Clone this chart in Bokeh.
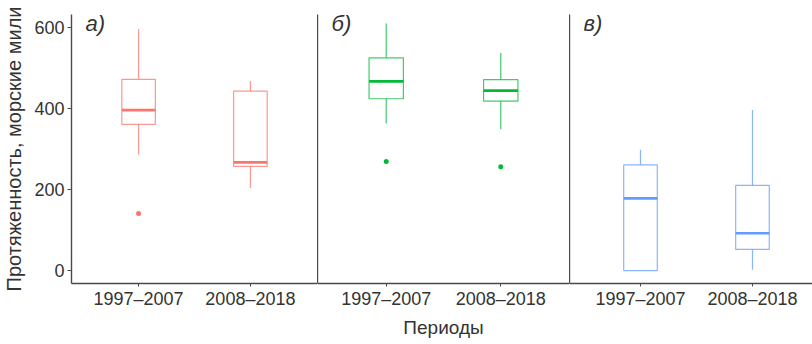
from bokeh.plotting import figure
from bokeh.layouts import row
from bokeh.models import Range1d, FixedTicker, Label, ColumnDataSource, Title
from bokeh.embed import file_html
from bokeh.resources import INLINE

# ---- data ----
periods = ["1997–2007", "2008–2018"]
panel_labels = ["а)", "б)", "в)"]
colors = ["#F8766D", "#00BA38", "#619CFF"]

whisker_low = [[286, 204], [363, 349], [0, 2]]
q1 = [[361, 257], [424, 418], [0, 52]]
median = [[396, 267], [467, 444], [178, 92]]
q3 = [[472, 443], [525, 471], [261, 210]]
whisker_high = [[596, 468], [610, 537], [298, 396]]

outlier_period = [["1997–2007"], ["1997–2007", "2008–2018"], []]
outlier_value = [[141], [269, 256], []]

y_ticks = [0, 200, 400, 600]
y_title = "Протяженность, морские мили"
x_title = "Периоды"

# ---- styling / layout ----
FONT = "Liberation Sans"
TEXT = "#333333"
AXIS = "#4a4a4a"
BOX_W = 0.3
fig_widths = [317, 252, 243]
left_borders = [69, 0, 0]
x_limits = [(0.4, 2.6), (0.4, 2.6), (0.366, 2.536)]
y_range = Range1d(-32, 632)

figs = []
for i in range(3):
    p = figure(width=fig_widths[i], height=344,
               x_range=Range1d(*x_limits[i]), y_range=y_range,
               output_backend="svg", toolbar_location=None,
               min_border_left=left_borders[i], min_border_right=0,
               min_border_top=14, min_border_bottom=61)
    p.xgrid.visible = False
    p.ygrid.visible = False
    p.outline_line_color = None
    p.background_fill_color = "white"
    p.border_fill_color = "white"

    xpos = [periods.index(pr) + 1 for pr in periods]
    src = ColumnDataSource(dict(
        x=xpos,
        x0=[x - BOX_W / 2 for x in xpos],
        x1=[x + BOX_W / 2 for x in xpos],
        lo=whisker_low[i], q1=q1[i], med=median[i], q3=q3[i], hi=whisker_high[i],
    ))
    c = colors[i]
    p.segment(x0="x", y0="lo", x1="x", y1="q1", source=src, line_color=c, line_width=1.2, line_alpha=0.75)
    p.segment(x0="x", y0="q3", x1="x", y1="hi", source=src, line_color=c, line_width=1.2, line_alpha=0.75)
    p.vbar(x="x", width=BOX_W, bottom="q1", top="q3", source=src,
           fill_color="white", line_color=c, line_width=1.2, line_alpha=0.75)
    p.segment(x0="x0", y0="med", x1="x1", y1="med", source=src, line_color=c, line_width=2.6)

    if outlier_value[i]:
        osrc = ColumnDataSource(dict(
            x=[periods.index(pr) + 1 for pr in outlier_period[i]],
            y=outlier_value[i]))
        p.scatter(x="x", y="y", source=osrc, size=5, color=c, line_color=None)

    # x axis
    xa = p.xaxis[0]
    xa.ticker = FixedTicker(ticks=xpos)
    xa.major_label_overrides = {x: periods[k] for k, x in enumerate(xpos)}
    xa.major_tick_out = 3
    xa.major_tick_in = 0
    xa.minor_tick_out = 0
    xa.minor_tick_in = 0
    xa.axis_line_color = AXIS
    xa.axis_line_width = 1.4
    xa.major_tick_line_color = AXIS
    xa.major_label_text_font = FONT
    xa.major_label_text_font_size = "18px"
    xa.major_label_text_color = TEXT
    xa.major_label_standoff = 2

    # y axis
    ya = p.yaxis[0]
    ya.axis_line_color = AXIS
    ya.axis_line_width = 1.4
    ya.minor_tick_out = 0
    ya.minor_tick_in = 0
    if i == 0:
        ya.ticker = FixedTicker(ticks=y_ticks)
        ya.major_tick_out = 4
        ya.major_tick_in = 0
        ya.major_tick_line_color = AXIS
        ya.major_label_text_font = FONT
        ya.major_label_text_font_size = "18px"
        ya.major_label_text_color = TEXT
        ya.major_label_standoff = 3
        ya.axis_label = y_title
        ya.axis_label_text_font = FONT
        ya.axis_label_text_font_size = "20px"
        ya.axis_label_text_font_style = "normal"
        ya.axis_label_text_color = TEXT
        ya.axis_label_standoff = 6
    else:
        ya.ticker = FixedTicker(ticks=[])
        ya.major_tick_out = 0
        ya.major_tick_in = 0
        ya.major_label_standoff = 0

    p.add_layout(Label(x=x_limits[i][0], y=y_range.end, x_offset=14, y_offset=4,
                       text=panel_labels[i], text_font=FONT, text_font_size="22px",
                       text_font_style="italic", text_color=TEXT,
                       text_baseline="top", text_align="left"))
    if i == 1:
        p.add_layout(Title(text=x_title, align="center", offset=-13,
                           text_font=FONT, text_font_size="19px",
                           text_font_style="normal", text_color=TEXT,
                           standoff=6), "below")
    figs.append(p)

layout = row(*figs)
open("out.html", "w").write(file_html(layout, INLINE))
